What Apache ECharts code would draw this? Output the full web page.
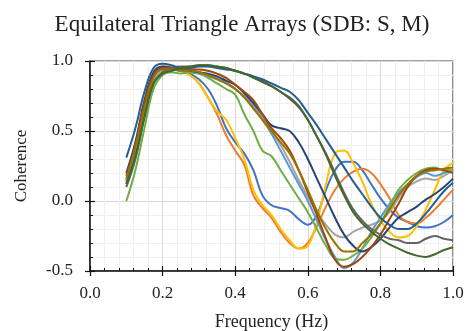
<!DOCTYPE html>
<html>
<head>
<meta charset="utf-8">
<script src="https://cdn.jsdelivr.net/npm/echarts@6/dist/echarts.min.js"></script>
<style>html,body{margin:0;padding:0;background:#fff}#c{width:467px;height:331px}</style>
</head>
<body>
<div id="c"></div>
<script>
const freq = [0.10,0.125,0.15,0.175,0.20,0.225,0.25,0.275,0.30,0.325,0.35,0.375,0.40,0.425,0.45,0.475,0.50,0.525,0.55,0.575,0.60,0.625,0.65,0.675,0.70,0.725,0.75,0.775,0.80,0.825,0.85,0.875,0.90,0.925,0.95,0.975,1.00];
const xTicks = [0.0,0.2,0.4,0.6,0.8,1.0];
const yTicks = [-0.5,0.0,0.5,1.0];
const sBlue = [0.14,0.36,0.66,0.90,0.95,0.95,0.93,0.91,0.87,0.80,0.68,0.52,0.42,0.34,0.22,0.04,-0.03,-0.05,-0.07,-0.13,-0.17,-0.10,0.08,0.22,0.28,0.28,0.22,0.12,0.02,-0.06,-0.12,-0.15,-0.18,-0.19,-0.18,-0.15,-0.10];
const sOrange = [0.15,0.38,0.68,0.90,0.96,0.96,0.93,0.90,0.84,0.74,0.62,0.47,0.36,0.26,0.04,-0.05,-0.12,-0.22,-0.30,-0.34,-0.30,-0.18,-0.04,0.08,0.16,0.21,0.23,0.20,0.12,0.02,-0.10,-0.15,-0.16,-0.12,-0.06,0.01,0.08];
const sGray = [0.10,0.30,0.60,0.85,0.93,0.94,0.93,0.93,0.92,0.90,0.88,0.85,0.80,0.75,0.68,0.60,0.50,0.40,0.28,0.15,0.03,-0.08,-0.17,-0.24,-0.26,-0.22,-0.19,-0.17,-0.14,-0.08,0.02,0.10,0.14,0.16,0.15,0.18,0.22];
const sYellow = [0.12,0.32,0.62,0.88,0.95,0.95,0.93,0.90,0.84,0.74,0.64,0.58,0.45,0.30,0.08,-0.03,-0.10,-0.20,-0.28,-0.34,-0.32,-0.15,0.12,0.34,0.36,0.27,0.14,-0.02,-0.14,-0.22,-0.26,-0.25,-0.18,-0.06,0.08,0.22,0.27];
const sLightBlue = [0.13,0.34,0.64,0.88,0.94,0.94,0.93,0.92,0.91,0.89,0.87,0.84,0.80,0.74,0.67,0.58,0.48,0.36,0.24,0.12,0.00,-0.14,-0.28,-0.40,-0.48,-0.44,-0.34,-0.22,-0.12,-0.02,0.06,0.12,0.17,0.20,0.18,0.20,0.22];
const sGreen = [0.00,0.22,0.52,0.80,0.90,0.92,0.91,0.92,0.91,0.88,0.84,0.80,0.76,0.62,0.50,0.36,0.32,0.22,0.12,0.02,-0.08,-0.20,-0.32,-0.41,-0.42,-0.39,-0.34,-0.26,-0.16,-0.04,0.08,0.15,0.20,0.23,0.24,0.22,0.22];
const sNavy = [0.20,0.42,0.72,0.92,0.96,0.95,0.94,0.93,0.92,0.91,0.89,0.86,0.83,0.77,0.70,0.62,0.54,0.52,0.50,0.42,0.30,0.16,0.02,-0.12,-0.24,-0.32,-0.36,-0.33,-0.27,-0.19,-0.12,-0.08,-0.04,0.01,0.05,0.10,0.16];
const sBrown = [0.18,0.40,0.70,0.90,0.95,0.95,0.94,0.94,0.94,0.93,0.91,0.88,0.83,0.78,0.72,0.62,0.52,0.45,0.36,0.22,0.06,-0.10,-0.27,-0.42,-0.47,-0.45,-0.40,-0.33,-0.24,-0.13,-0.02,0.10,0.18,0.22,0.23,0.22,0.20];
const sDarkGray = [0.10,0.30,0.60,0.84,0.92,0.95,0.96,0.96,0.97,0.97,0.96,0.95,0.93,0.91,0.89,0.86,0.82,0.78,0.74,0.68,0.58,0.46,0.34,0.20,0.06,-0.06,-0.14,-0.20,-0.24,-0.27,-0.28,-0.30,-0.30,-0.27,-0.25,-0.27,-0.28];
const sOlive = [0.16,0.38,0.66,0.88,0.94,0.94,0.93,0.93,0.92,0.90,0.87,0.84,0.80,0.74,0.66,0.58,0.50,0.42,0.34,0.22,0.08,-0.07,-0.20,-0.30,-0.36,-0.36,-0.30,-0.24,-0.16,-0.06,0.04,0.12,0.18,0.21,0.22,0.23,0.24];
const sSteel = [0.31,0.52,0.78,0.95,0.98,0.97,0.95,0.95,0.96,0.96,0.95,0.94,0.93,0.91,0.89,0.87,0.84,0.81,0.78,0.72,0.63,0.54,0.44,0.34,0.24,0.14,0.05,-0.04,-0.12,-0.17,-0.20,-0.20,-0.16,-0.09,-0.01,0.07,0.13];
const sDarkGreen = [0.12,0.32,0.60,0.84,0.91,0.93,0.95,0.96,0.97,0.97,0.96,0.95,0.93,0.91,0.88,0.85,0.82,0.78,0.73,0.67,0.58,0.46,0.33,0.18,0.04,-0.08,-0.16,-0.22,-0.27,-0.31,-0.34,-0.37,-0.39,-0.40,-0.38,-0.35,-0.33];

const seriesDefs = [
  ['#4472C4', sBlue], ['#ED7D31', sOrange], ['#A5A5A5', sGray], ['#FFC000', sYellow],
  ['#5B9BD5', sLightBlue], ['#70AD47', sGreen], ['#264478', sNavy], ['#9E480E', sBrown],
  ['#636363', sDarkGray], ['#997300', sOlive], ['#255E91', sSteel], ['#43682B', sDarkGreen]
];

const font = 'Liberation Serif, Times New Roman, serif';
const chart = echarts.init(document.getElementById('c'), null, {renderer: 'canvas'});
const fmt = v => v.toFixed(1);
const xBase = {
  type: 'value', min: xTicks[0], max: xTicks[xTicks.length-1], interval: 0.2,
};
const yBase = {
  type: 'value', min: yTicks[0], max: yTicks[yTicks.length-1], interval: 0.5,
};
chart.setOption({
  animation: false,
  title: {
    text: 'Equilateral Triangle Arrays (SDB: S, M)', left: 237, top: 8, textAlign: 'center',
    textStyle: {fontFamily: font, fontSize: 23, fontWeight: 'normal', color: '#222'}
  },
  grid: {left: 90, right: 14, top: 61, bottom: 60, outerBoundsMode: 'none', containLabel: false, show: true, borderColor: '#444', borderWidth: 1.2, backgroundColor: 'transparent'},
  xAxis: [
    Object.assign({}, xBase, {
      name: 'Frequency (Hz)', nameLocation: 'middle', nameGap: 42,
      nameTextStyle: {fontFamily: font, fontSize: 18, color: '#222'},
      axisLine: {show: true, onZero: false, lineStyle: {color: '#111', width: 1.5}},
      axisTick: {show: true, inside: true, length: 5, lineStyle: {color: '#111', width: 1.2}},
      minorTick: {show: true, splitNumber: 5, length: 3, lineStyle: {color: '#111', width: 1}},
      axisLabel: {fontFamily: font, fontSize: 17, color: '#222', margin: 14, formatter: fmt},
      splitLine: {show: true, lineStyle: {color: '#d9d9d9', width: 1}},
      minorSplitLine: {show: true, lineStyle: {color: '#efefef', width: 1}}
    }),
    Object.assign({}, xBase, {
      position: 'bottom', axisLine: {show: false, onZero: false},
      axisTick: {show: true, inside: false, length: 5, lineStyle: {color: '#111', width: 1.2}},
      axisLabel: {show: false}, splitLine: {show: false}
    })
  ],
  yAxis: [
    Object.assign({}, yBase, {
      name: 'Coherence', nameLocation: 'middle', nameGap: 60, nameRotate: 90,
      nameTextStyle: {fontFamily: font, fontSize: 17, color: '#222'},
      axisLine: {show: true, onZero: false, lineStyle: {color: '#111', width: 1.5}},
      axisTick: {show: true, inside: true, length: 5, lineStyle: {color: '#111', width: 1.2}},
      minorTick: {show: true, splitNumber: 5, length: 3, lineStyle: {color: '#111', width: 1}},
      axisLabel: {fontFamily: font, fontSize: 17, color: '#222', margin: 17, formatter: fmt},
      splitLine: {show: true, lineStyle: {color: '#d9d9d9', width: 1}},
      minorSplitLine: {show: true, lineStyle: {color: '#efefef', width: 1}}
    }),
    Object.assign({}, yBase, {
      position: 'left', axisLine: {show: false, onZero: false},
      axisTick: {show: true, inside: false, length: 5, lineStyle: {color: '#111', width: 1.2}},
      axisLabel: {show: false}, splitLine: {show: false}
    })
  ],
  series: seriesDefs.map(([color, vals]) => ({
    type: 'line', xAxisIndex: 0, yAxisIndex: 0,
    data: freq.map((f, i) => [f, vals[i]]),
    smooth: 0.4, showSymbol: false, clip: true,
    lineStyle: {color: color, width: 2}, itemStyle: {color: color}
  }))
});
</script>
</body>
</html>
